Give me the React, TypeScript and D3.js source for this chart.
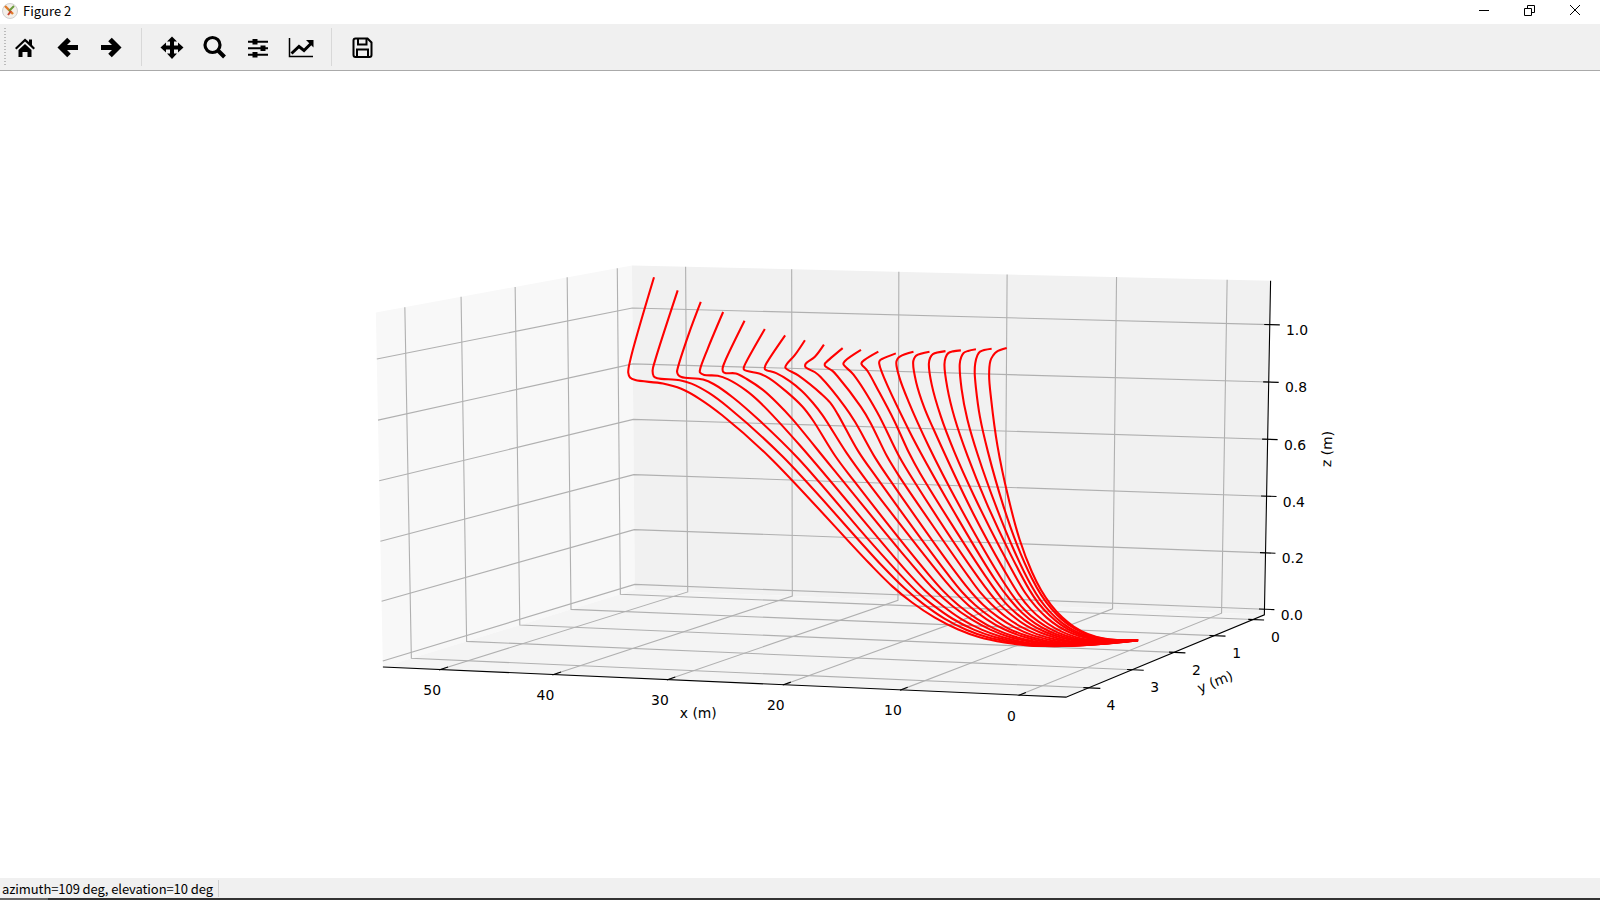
import React from "react";
import * as d3 from "d3";

const W=1600,H=900;
const xLim=[-3.9,55.1],yLim=[-0.3,4.5],zLim=[-0.02,1.152];
const xTicks=[0,10,20,30,40,50],yTicks=[0,1,2,3,4],zTicks=[0,0.2,0.4,0.6,0.8,1.0];
const curveX=[
[51.63,53.94,54.15,53.89,53.30,50.54,48.63,46.55,43.84,38.00,25.32,22.35,20.10,17.60,15.16,13.00,10.65,8.37,5.81,1.51,-1.09],
[48.40,50.56,50.82,50.67,50.30,48.08,46.89,44.94,42.70,36.16,23.85,21.06,18.97,16.62,14.32,12.28,9.94,7.84,5.55,1.60,-1.09],
[45.25,46.42,47.47,47.51,47.41,47.06,44.94,43.79,41.67,38.50,33.92,25.47,21.63,19.67,17.98,15.78,13.61,11.59,9.36,7.35,5.32,1.82,-1.05],
[42.19,43.64,44.36,44.37,43.98,42.67,41.62,39.71,38.00,33.39,21.06,18.88,17.00,14.95,12.91,11.01,8.79,6.96,5.11,1.87,-1.09],
[39.24,41.06,41.28,41.23,40.98,39.97,38.71,37.03,35.32,33.82,29.43,21.47,18.10,15.92,14.01,12.10,10.23,8.11,6.45,4.78,-1.07],
[36.37,38.14,38.31,38.29,36.71,35.93,34.12,32.50,31.34,28.68,26.67,18.47,16.77,15.26,13.41,11.63,9.88,7.85,6.20,4.62,-1.06],
[33.56,35.28,35.42,35.40,34.38,33.14,31.88,30.73,29.71,27.05,24.83,16.87,15.51,14.21,12.50,10.85,9.22,7.29,5.81,4.32,-1.09],
[30.82,31.74,32.47,32.59,31.43,29.15,28.33,27.53,25.36,23.45,16.24,14.85,13.54,11.98,10.37,8.77,6.94,5.47,4.07,-1.08],
[28.17,28.98,29.82,29.83,28.97,28.49,26.11,25.13,23.16,21.65,15.08,13.83,12.72,11.30,9.83,8.34,6.62,5.24,3.84,-1.05],
[25.56,27.05,27.15,27.13,26.47,26.04,23.89,23.01,21.47,20.41,13.95,12.89,11.92,10.56,9.21,7.84,6.24,4.86,3.55,-1.08],
[23.01,24.40,24.57,23.67,21.62,19.73,18.39,12.82,11.15,9.93,8.72,7.48,5.99,4.71,3.41,-1.05],
[20.56,21.77,22.05,21.51,20.64,19.41,18.24,17.35,12.05,10.48,9.40,8.25,7.05,5.67,4.40,3.19,-1.09],
[18.12,19.33,19.53,19.57,17.41,13.70,10.98,9.84,8.90,7.82,6.67,5.41,4.16,2.95,-1.07],
[15.68,16.83,17.07,17.17,16.90,16.41,15.13,13.23,10.60,9.34,8.49,7.48,6.45,5.24,4.01,2.81,-1.12],
[13.40,14.55,14.74,14.81,14.62,14.33,13.86,11.58,9.73,8.70,7.89,7.01,6.05,4.95,3.84,2.65,1.43,-1.10],
[11.10,12.18,12.42,12.52,12.47,12.24,11.74,10.81,9.39,8.00,7.34,6.55,5.66,4.61,3.45,2.11,-1.12],
[8.91,9.58,9.98,10.20,10.30,10.32,10.37,10.04,9.36,8.43,7.46,6.90,6.21,5.39,4.41,3.28,1.97,-1.08],
[6.76,7.42,7.80,8.00,8.12,8.31,8.56,8.54,8.21,7.69,7.02,6.53,5.93,5.19,4.27,3.20,1.92,0.71,-1.13],
[4.57,5.54,5.77,5.94,5.98,6.23,6.70,6.98,7.11,6.97,6.58,6.21,5.70,5.02,4.19,3.18,1.86,0.68,-1.07],
[2.45,3.30,3.58,3.80,3.94,4.50,5.35,5.99,6.28,6.18,5.92,5.50,4.88,4.13,3.12,1.84,0.58,-1.08],
];
const curveY=[
[0.00,0.00,0.00,0.02,0.04,0.07,0.11,0.19,0.32,0.65,1.49,1.68,1.80,1.92,2.01,2.08,2.10,2.10,2.10,2.10,2.10],
[0.22,0.22,0.22,0.23,0.24,0.26,0.28,0.35,0.45,0.80,1.57,1.73,1.84,1.95,2.03,2.08,2.10,2.10,2.10,2.10,2.10],
[0.44,0.44,0.44,0.44,0.44,0.45,0.47,0.50,0.58,0.73,0.97,1.47,1.69,1.80,1.88,1.97,2.04,2.08,2.10,2.10,2.10,2.10,2.10],
[0.66,0.66,0.66,0.66,0.66,0.67,0.69,0.75,0.82,1.05,1.72,1.83,1.91,1.99,2.04,2.08,2.10,2.10,2.10,2.10,2.10],
[0.88,0.88,0.88,0.88,0.88,0.90,0.95,1.01,1.08,1.13,1.31,1.70,1.86,1.94,2.00,2.05,2.09,2.10,2.10,2.10,2.10],
[1.11,1.11,1.11,1.11,1.11,1.12,1.17,1.22,1.27,1.41,1.50,1.85,1.92,1.97,2.02,2.06,2.09,2.10,2.10,2.10,2.10],
[1.33,1.33,1.33,1.33,1.33,1.34,1.37,1.41,1.44,1.55,1.64,1.92,1.96,2.00,2.04,2.07,2.09,2.10,2.10,2.10,2.10],
[1.55,1.55,1.55,1.55,1.55,1.59,1.60,1.63,1.71,1.76,1.96,2.00,2.03,2.05,2.08,2.09,2.10,2.10,2.10,2.10],
[1.77,1.77,1.77,1.77,1.77,1.77,1.81,1.83,1.87,1.90,2.02,2.04,2.06,2.07,2.08,2.09,2.10,2.10,2.10,2.10],
[1.99,1.99,1.99,1.99,1.99,1.99,2.00,2.01,2.02,2.03,2.07,2.08,2.08,2.09,2.09,2.10,2.10,2.10,2.10,2.10],
[2.21,2.21,2.21,2.21,2.20,2.18,2.17,2.13,2.12,2.11,2.11,2.10,2.10,2.10,2.10,2.10],
[2.43,2.43,2.43,2.43,2.41,2.37,2.33,2.31,2.18,2.15,2.13,2.12,2.11,2.10,2.10,2.10,2.10],
[2.65,2.65,2.65,2.65,2.54,2.35,2.23,2.18,2.16,2.14,2.12,2.11,2.10,2.10,2.10],
[2.87,2.87,2.87,2.87,2.87,2.80,2.67,2.50,2.30,2.22,2.19,2.15,2.13,2.11,2.10,2.10,2.10],
[3.09,3.09,3.09,3.09,3.07,2.97,2.89,2.58,2.36,2.27,2.22,2.18,2.14,2.12,2.11,2.10,2.10,2.10],
[3.32,3.32,3.32,3.32,3.27,3.13,2.96,2.76,2.52,2.32,2.25,2.20,2.16,2.13,2.11,2.10,2.10],
[3.54,3.54,3.54,3.54,3.54,3.47,3.30,3.10,2.84,2.58,2.37,2.30,2.23,2.18,2.14,2.12,2.10,2.10],
[3.76,3.76,3.76,3.76,3.76,3.67,3.48,3.25,2.93,2.66,2.44,2.35,2.27,2.21,2.16,2.12,2.10,2.10,2.10],
[3.98,3.98,3.98,3.98,3.98,3.89,3.68,3.43,3.06,2.78,2.54,2.42,2.32,2.24,2.18,2.14,2.11,2.10,2.10],
[4.20,4.20,4.20,4.20,4.19,4.00,3.64,3.24,2.90,2.64,2.50,2.38,2.28,2.21,2.15,2.11,2.10,2.10],
];
const curveZ=[
[1.123,0.827,0.781,0.765,0.757,0.749,0.734,0.704,0.654,0.528,0.216,0.147,0.102,0.061,0.029,0.010,-0.004,-0.011,-0.008,0.007,0.023],
[1.087,0.839,0.801,0.781,0.775,0.771,0.761,0.733,0.689,0.540,0.215,0.146,0.102,0.061,0.030,0.011,-0.003,-0.010,-0.008,0.007,0.023],
[1.057,0.940,0.818,0.808,0.798,0.791,0.785,0.771,0.730,0.657,0.541,0.297,0.190,0.140,0.103,0.062,0.032,0.012,-0.002,-0.009,-0.007,0.006,0.023],
[1.032,0.902,0.829,0.818,0.810,0.809,0.798,0.764,0.723,0.590,0.210,0.149,0.104,0.064,0.033,0.014,-0.001,-0.007,-0.006,0.007,0.023],
[1.012,0.869,0.845,0.832,0.828,0.829,0.812,0.780,0.736,0.688,0.533,0.268,0.162,0.104,0.065,0.035,0.015,0.001,-0.005,-0.004,0.023],
[0.995,0.875,0.859,0.852,0.838,0.825,0.782,0.736,0.693,0.577,0.501,0.206,0.151,0.109,0.068,0.038,0.018,0.003,-0.004,-0.003,0.023],
[0.984,0.885,0.872,0.865,0.853,0.828,0.796,0.759,0.718,0.595,0.505,0.197,0.149,0.111,0.070,0.040,0.020,0.005,-0.001,-0.001,0.023],
[0.978,0.926,0.894,0.882,0.857,0.797,0.769,0.732,0.612,0.524,0.212,0.158,0.116,0.075,0.043,0.022,0.007,0.001,0.000,0.023],
[0.974,0.932,0.906,0.896,0.879,0.864,0.766,0.717,0.599,0.523,0.212,0.159,0.120,0.079,0.048,0.026,0.011,0.003,0.002,0.023],
[0.973,0.923,0.918,0.911,0.895,0.878,0.776,0.725,0.612,0.550,0.213,0.163,0.125,0.083,0.051,0.030,0.014,0.006,0.005,0.023],
[0.978,0.940,0.929,0.894,0.770,0.621,0.535,0.213,0.132,0.090,0.058,0.035,0.018,0.009,0.007,0.023],
[0.983,0.954,0.942,0.917,0.852,0.751,0.641,0.573,0.225,0.138,0.096,0.063,0.039,0.021,0.012,0.009,0.023],
[0.988,0.968,0.962,0.952,0.728,0.418,0.216,0.147,0.105,0.069,0.043,0.025,0.014,0.011,0.023],
[1.004,0.988,0.979,0.966,0.918,0.838,0.682,0.486,0.251,0.158,0.114,0.076,0.050,0.029,0.017,0.013,0.023],
[1.015,1.001,0.990,0.977,0.912,0.826,0.753,0.458,0.260,0.170,0.121,0.084,0.055,0.034,0.021,0.016,0.016,0.023],
[1.028,1.017,1.004,0.985,0.915,0.805,0.681,0.527,0.338,0.182,0.133,0.093,0.062,0.039,0.024,0.017,0.023],
[1.041,1.037,1.031,1.017,0.994,0.914,0.809,0.676,0.505,0.335,0.197,0.147,0.104,0.070,0.044,0.028,0.019,0.023],
[1.055,1.049,1.042,1.028,1.006,0.921,0.814,0.685,0.502,0.344,0.215,0.160,0.115,0.079,0.050,0.031,0.021,0.019,0.023],
[1.067,1.057,1.044,1.019,0.990,0.938,0.833,0.707,0.516,0.370,0.245,0.183,0.132,0.090,0.059,0.037,0.023,0.020,0.023],
[1.080,1.067,1.055,1.038,0.990,0.905,0.738,0.555,0.394,0.271,0.204,0.148,0.101,0.067,0.040,0.024,0.020,0.023],
];
const az=109*Math.PI/180,el=9.8*Math.PI/180;
const ev=[Math.cos(el)*Math.cos(az),Math.cos(el)*Math.sin(az),Math.sin(el)];
const rv=[-Math.sin(az),Math.cos(az),0];
const tv=[-Math.sin(el)*Math.cos(az),-Math.sin(el)*Math.sin(az),Math.cos(el)];
const SZ=0.875,DIST=10;
const nx=d3.scaleLinear().domain(xLim).range([-0.5,0.5]);
const ny=d3.scaleLinear().domain(yLim).range([-0.5,0.5]);
const nz=d3.scaleLinear().domain(zLim).range([-0.5*SZ,0.5*SZ]);
const su=d3.scaleLinear().domain([0,1]).range([837,837+698]);
const sv=d3.scaleLinear().domain([0,1]).range([469.4,469.4-399]);
const dot=(a:number[],b:number[])=>a[0]*b[0]+a[1]*b[1]+a[2]*b[2];
function proj(x:number,y:number,z:number):[number,number]{
  const P=[nx(x),ny(y),nz(z)];const s=DIST/(DIST-dot(P,ev));
  return [su(dot(P,rv)*s),sv(dot(P,tv)*s)];
}
const line=d3.line().curve(d3.curveCatmullRom.alpha(0.5));
const curves3=curveX.map((xs,i)=>d3.zip(xs,curveY[i],curveZ[i]));
const p3=(pts:number[][])=>"M"+pts.map(p=>proj(p[0],p[1],p[2]).map(n=>n.toFixed(2)).join(",")).join("L");
const [x0,x1]=xLim,[y0,y1]=yLim,[z0,z1]=zLim;
const MPL="'DejaVu Sans'";
const CH="'Noto Sans CJK SC'";
const grid="#b0b0b0";
export default function App(){
  return <svg width={W} height={H} viewBox={`0 0 ${W} ${H}`} style={{position:"fixed",left:0,top:0,background:"#fff"}}>
    <rect width={W} height={H} fill="#fff"/>
    <path d={p3([[x1,y0,z0],[x1,y1,z0],[x1,y1,z1],[x1,y0,z1]])+"Z"} fill="#f8f8f8"/>
    <path d={p3([[x0,y0,z0],[x1,y0,z0],[x1,y0,z1],[x0,y0,z1]])+"Z"} fill="#f1f1f1"/>
    <path d={p3([[x0,y0,z0],[x1,y0,z0],[x1,y1,z0],[x0,y1,z0]])+"Z"} fill="#f4f4f4"/>
    <g fill="none" stroke={grid} strokeWidth={1.1}>
      {xTicks.map(t=><path key={t} d={p3([[t,y1,z0],[t,y0,z0],[t,y0,z1]])}/>)}
      {yTicks.map(t=><path key={t} d={p3([[x0,t,z0],[x1,t,z0],[x1,t,z1]])}/>)}
      {zTicks.map(t=><path key={t} d={p3([[x1,y1,t],[x1,y0,t],[x0,y0,t]])}/>)}
    </g>
    <g fill="none" stroke="#000" strokeWidth={1.1}>
      <path d={p3([[x1,y1,z0],[x0,y1,z0],[x0,y0,z0],[x0,y0,z1]])}/>
      {xTicks.map(t=><path key={t} d={p3([[t,y1+0.02,z0],[t,y1-0.14,z0]])}/>)}
      {yTicks.map(t=><path key={t} d={p3([[x0-1,t,z0],[x0+0.43,t,z0]])}/>)}
      {zTicks.map(t=><path key={t} d={p3([[x0-0.9,y0,t],[x0+0.5,y0,t]])}/>)}
    </g>
    <g fill="none" stroke="#ff0000" strokeWidth={2.08} strokeLinejoin="round">
      {curves3.map((c,i)=><path key={i} d={line(c.map(p=>proj(p[0],p[1],p[2])) as any)!}/>)}
    </g>
    <g fontFamily={MPL} fontSize={13.9} fill="#000" textAnchor="middle" dominantBaseline="central">
      {xTicks.map(t=>{const [u,v]=proj(t,y1,z0);return <text key={t} x={u-8} y={v+20.5}>{t}</text>;})}
      {yTicks.map(t=>{const [u,v]=proj(x0,t,z0);return <text key={t} x={u+22.5} y={v+17.5}>{t}</text>;})}
      {zTicks.map(t=>{const [u,v]=proj(x0,y0,t);return <text key={t} x={u+27.3} y={v+5.3}>{t.toFixed(1)}</text>;})}
      <text x={698.3} y={713.3}>x (m)</text>
      <text transform="translate(1215,681.7) rotate(-22)">y (m)</text>
      <text transform="translate(1326.7,449) rotate(-88)">z (m)</text>
    </g>
    <rect x={0} y={24} width={W} height={46} fill="#f0f0f0"/>
    <rect x={0} y={70} width={W} height={1} fill="#aaaaaa"/>
    <rect x={0} y={878} width={W} height={20} fill="#f0f0f0"/>
    <rect x={218} y={880} width={1} height={17} fill="#d0d0d0"/>
    <rect x={0} y={898} width={48} height={2} fill="#666"/>
    <rect x={48} y={898} width={W-48} height={2} fill="#333"/>
    <g stroke="#d8d8d8"><path d="M141.5 28V66M331.5 28V66"/></g>
    <path d="M5 28V66" stroke="#bbb" strokeWidth={2} strokeDasharray="1 2"/>
    <g>
      <circle cx={10} cy={11} r={7.5} fill="#f3efe9" stroke="#cfcfcf"/>
      <path d="M5 6L13 14" stroke="#e07b2a" strokeWidth={2.4}/><path d="M14 6L9 11" stroke="#6a9a3a" strokeWidth={2}/><path d="M8 15L11 11" stroke="#c9452e" strokeWidth={2}/>
    </g>
    <text x={23} y={16} fontFamily={CH} fontSize={13} fill="#000">Figure 2</text>
    <text x={2} y={894} fontFamily={CH} fontSize={13} fill="#000" textLength={211}>azimuth=109 deg, elevation=10 deg</text>
    <g stroke="#000" fill="none">
      <path d="M1479 10.5H1489" strokeWidth={1}/>
      <path d="M1524.5 8.5H1531.5V15.5H1524.5ZM1527.5 8.5V5.5H1534.5V12.5H1531.5" strokeWidth={1}/>
      <path d="M1570 5L1580 15M1580 5L1570 15" strokeWidth={1}/>
    </g>
    <g fill="#000">
      <path d="M15 48L25 38.5L29 42V39.5H32V45L35 48L33.5 49.5L25 41.5L16.5 49.5ZM18.5 50L25 44L31.5 50V57H27.5V52H22.5V57H18.5Z"/>
      <g fill="none" stroke="#000" strokeWidth={5} strokeLinejoin="miter"><path d="M78 47.5H62M69 39.5L61 47.5L69 55.5"/><path d="M101 47.5H117M110 39.5L118 47.5L110 55.5"/></g>
      <path d="M172 36.5L177 41.5H174V45.5H178V42.5L183.5 47.5L178 52.5V49.5H174V53.5H177L172 59L167 53.5H170V49.5H166V52.5L160.5 47.5L166 42.5V45.5H170V41.5H167Z"/>
      <g fill="none" stroke="#000"><circle cx={212.5} cy={45} r={7.5} strokeWidth={3.2}/><path d="M218 50.5L224.5 57" strokeWidth={4}/>
        <path d="M248 41.7H268M248 48.3H268M248 54.7H268" strokeWidth={2}/>
        <path d="M289.5 38V56.5H313" strokeWidth={1.5} /><path d="M291.5 53.5L299 46.5L304 50.5L311 43.5" strokeWidth={3}/>
        <path d="M353.5 40.5Q353.5 38.5 355.5 38.5H367.5L371.5 42.5V55Q371.5 57 369.5 57H355.5Q353.5 57 353.5 55Z" strokeWidth={2}/><path d="M358 38.5V44.5H366.5V38.5M357 57V49.5H368V57" strokeWidth={2}/>
      </g>
      <rect x={252.5} y={39} width={5} height={5.5}/><rect x={260.5} y={45.5} width={5} height={5.5}/><rect x={252.5} y={52} width={5} height={5.5}/>
      <path d="M306 40H313.5V47.5Z"/>
    </g>
  </svg>;
}
